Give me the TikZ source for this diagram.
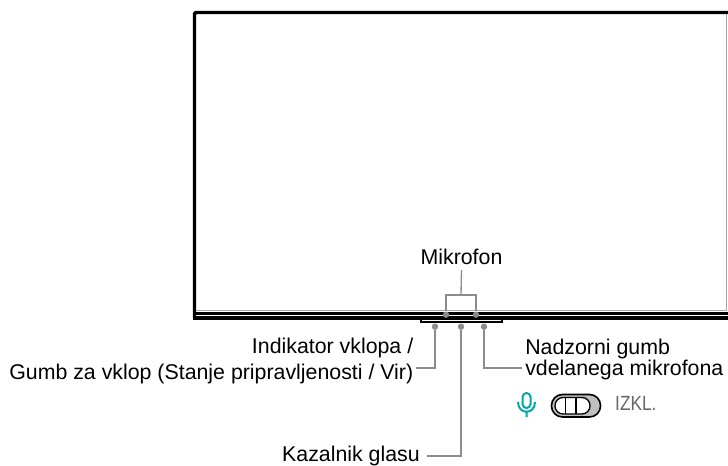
\documentclass[tikz,border=0pt]{standalone}
\usepackage{fontspec}
\setmainfont{Liberation Sans}
\usetikzlibrary{positioning}
\definecolor{leadgray}{RGB}{140,140,142}
\definecolor{micteal}{RGB}{0,168,168}
\tikzset{
    label/.style={font=\fontsize{16pt}{17pt}\selectfont, text=black, inner sep=0pt, align=left},
    dot/.style={circle, fill=leadgray, minimum size=4.8pt, inner sep=0pt},
    lead/.style={line width=1pt, leadgray}
}
\begin{document}
\begin{tikzpicture}[x=0.75pt, y=-0.75pt]
    \useasboundingbox (0, 0) rectangle (728, 466);
    % television
    \draw [line width=2.6pt, black, rounded corners=1pt] (728, 12.5) -- (194.5, 12.5) -- (194.5, 318);
    \draw [line width=2.4pt, black] (193, 313.3) -- (728, 313.3);
    \draw [line width=3.2pt, black] (193, 318) -- (728, 318);
    \draw [line width=0.5pt, black!35] (196, 310.5) -- (726.5, 310.5) -- (726.5, 14);
    % stand
    \draw [line width=1.5pt, black] (421, 320) -- (421, 322.5) -- (501.5, 322.5) -- (501.5, 320);
    \draw [line width=0.8pt, white, dashed] (426, 320.7) -- (497, 320.7);
    % points
    \node [dot] (micleft) at (446, 314.7) {};
    \node [dot] (micright) at (476, 314.7) {};
    \node [dot] (power) at (435, 326.7) {};
    \node [dot] (voice) at (461, 326.7) {};
    \node [dot] (mute) at (484, 326.7) {};
    % labels
    \node [label, anchor=base] (mikrofon) at (461.5, 265) {Mikrofon};
    \node [label, anchor=base east] (powerlabel) at (413.5, 354) {Indikator vklopa /};
    \node [label, anchor=base east] (powerlabeltwo) at (413.5, 379) {Gumb za vklop (Stanje pripravljenosti / Vir)};
    \node [label, anchor=base east] (voicelabel) at (420, 461.5) {Kazalnik glasu};
    \node [label, anchor=base west] (mutelabel) at (525, 355) {Nadzorni gumb};
    \node [label, anchor=base west] (mutelabeltwo) at (525, 376) {vdelanega mikrofona};
    % leads
    \coordinate (bracket) at (461, 295);
    \coordinate (powerend) at (415.5, 368);
    \coordinate (voiceend) at (427, 456);
    \coordinate (muteend) at (522, 368);
    \draw [lead] (mikrofon.south |- 0, 270) -- (bracket);
    \draw [lead] (micleft) |- (bracket) -| (micright);
    \draw [lead] (power) |- (powerend);
    \draw [lead] (voice) |- (voiceend);
    \draw [lead] (mute) |- (muteend);
    % mic icon
    \draw [line width=1.5pt, micteal, rounded corners=3pt] (522.5, 393) rectangle (530.5, 408);
    \draw [line width=1.5pt, micteal] (518, 402) .. controls (518, 415) and (535, 415) .. (535, 402) (526.5, 411.5) -- (526.5, 417);
    % switch
    \draw [line width=1.2pt, black, fill=black!25, rounded corners=8.2pt] (551.5, 394.5) rectangle (600.5, 417);
    \draw [line width=1pt, black, fill=white, rounded corners=6pt] (555, 397.5) rectangle (590, 414);
    \draw [line width=1pt, black] (565.5, 397.5) -- (565.5, 414) (576, 397.5) -- (576, 414);
    \node [label, anchor=base west, text=black!60, font=\fontsize{15.4pt}{16pt}\selectfont, xscale=0.84] (izkl) at (615, 411) {IZKL.};
\end{tikzpicture}
\end{document}
